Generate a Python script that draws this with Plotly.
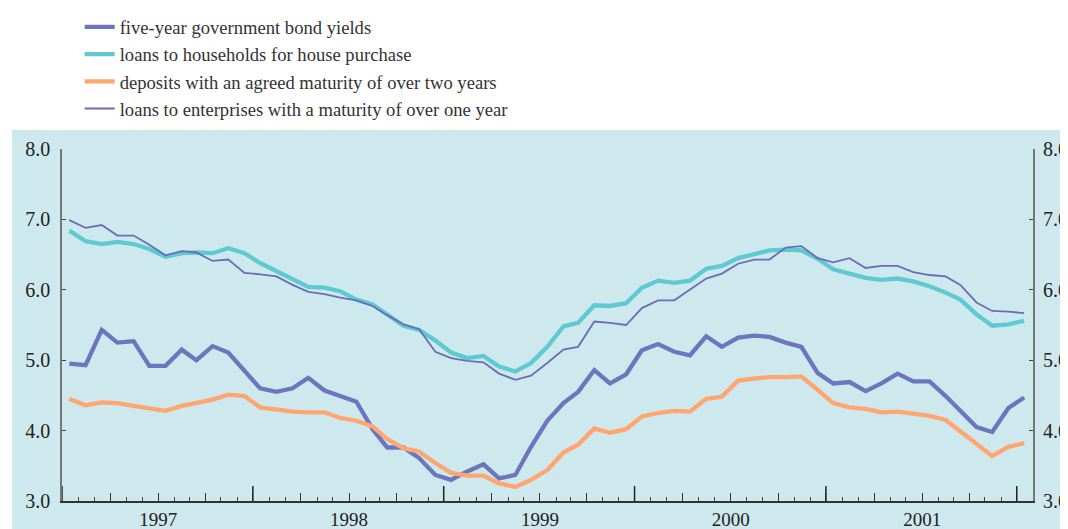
import pandas as pd
import plotly.graph_objects as go

# monthly observations, July 1996 - July 2001 (plotted mid-month)
months = pd.date_range("1996-07-01", periods=61, freq="MS") + pd.Timedelta(days=14)

bond_yields = [4.95, 4.93, 5.43, 5.25, 5.27, 4.92, 4.92, 5.15, 5.00, 5.20, 5.11, 4.86,
               4.60, 4.55, 4.60, 4.75, 4.57, 4.49, 4.41, 4.02, 3.76, 3.76, 3.61, 3.37,
               3.30, 3.42, 3.52, 3.32, 3.37, 3.77, 4.14, 4.39, 4.55, 4.86, 4.67, 4.80,
               5.14, 5.23, 5.12, 5.07, 5.34, 5.19, 5.32, 5.35, 5.33, 5.25, 5.19, 4.82,
               4.67, 4.69, 4.56, 4.67, 4.81, 4.70, 4.70, 4.49, 4.28, 4.05, 3.98, 4.32, 4.47]
households = [6.84, 6.69, 6.65, 6.68, 6.65, 6.58, 6.47, 6.52, 6.53, 6.52, 6.59, 6.52,
              6.38, 6.26, 6.15, 6.04, 6.03, 5.98, 5.86, 5.79, 5.65, 5.49, 5.43, 5.28,
              5.11, 5.03, 5.06, 4.91, 4.84, 4.96, 5.19, 5.48, 5.53, 5.78, 5.77, 5.81,
              6.03, 6.13, 6.10, 6.13, 6.30, 6.34, 6.45, 6.51, 6.56, 6.57, 6.56, 6.44,
              6.29, 6.23, 6.17, 6.14, 6.16, 6.12, 6.05, 5.96, 5.86, 5.65, 5.49, 5.51, 5.56]
deposits = [4.45, 4.36, 4.40, 4.39, 4.35, 4.32, 4.28, 4.35, 4.40, 4.44, 4.51, 4.49,
            4.33, 4.30, 4.27, 4.26, 4.26, 4.18, 4.14, 4.06, 3.88, 3.75, 3.70, 3.54,
            3.40, 3.36, 3.36, 3.25, 3.20, 3.30, 3.44, 3.69, 3.80, 4.03, 3.97, 4.02,
            4.20, 4.25, 4.28, 4.27, 4.45, 4.48, 4.71, 4.74, 4.76, 4.76, 4.77, 4.58,
            4.39, 4.33, 4.31, 4.26, 4.27, 4.24, 4.21, 4.15, 3.99, 3.83, 3.64, 3.77, 3.82]
enterprises = [6.99, 6.88, 6.92, 6.77, 6.77, 6.64, 6.49, 6.55, 6.53, 6.41, 6.43, 6.24,
               6.22, 6.19, 6.07, 5.97, 5.94, 5.89, 5.85, 5.77, 5.64, 5.51, 5.44, 5.12,
               5.03, 4.99, 4.97, 4.81, 4.72, 4.78, 4.96, 5.15, 5.19, 5.55, 5.53, 5.50,
               5.74, 5.85, 5.85, 6.00, 6.16, 6.23, 6.37, 6.43, 6.43, 6.60, 6.62, 6.45,
               6.39, 6.45, 6.31, 6.34, 6.34, 6.25, 6.21, 6.19, 6.07, 5.82, 5.70, 5.69, 5.67]

series_names = ["five-year government bond yields",
                "loans to households for house purchase",
                "deposits with an agreed maturity of over two years",
                "loans to enterprises with a maturity of over one year"]
series_colors = ["#6B76BE", "#5FC9D2", "#FFA570", "#6A6DB6"]
series_widths = [4.3, 4.3, 4.3, 1.8]

y_ticks = [3, 4, 5, 6, 7, 8]

FONT = "Liberation Serif"
BG = "#CEE9EE"

fig = go.Figure()
for name, vals, col, w, ax in zip(series_names, [bond_yields, households, deposits, enterprises],
                                  series_colors, series_widths, ["y", "y", "y", "y2"]):
    fig.add_trace(go.Scatter(x=months, y=vals, mode="lines", name=name, yaxis=ax,
                             line=dict(color=col, width=w), legendgroup=name))

# quarter ticks with year labels at January
quarters = pd.date_range("1996-10-01", "2001-07-01", freq="QS")
qtext = [str(d.year) if d.month == 1 else "" for d in quarters]

# the page body adds an 8px offset, so the figure is sized/margined to compensate
fig.update_layout(
    width=1060, height=521,
    margin=dict(l=54, r=35, t=141, b=28, autoexpand=False),
    paper_bgcolor="white", plot_bgcolor=BG,
    font=dict(family=FONT, size=20, color="#222"),
    showlegend=True,
    legend=dict(x=0.0182, y=1.3995, xanchor="left", yanchor="top",
                font=dict(family=FONT, size=18.6, color="#333"),
                bgcolor="rgba(0,0,0,0)", tracegroupgap=2, traceorder="normal"),
    xaxis=dict(type="date", range=["1996-07-01", "2001-08-01"],
               tickmode="array", tickvals=list(quarters), ticktext=qtext,
               ticks="inside", ticklen=8, tickwidth=1.3, tickcolor="#333",
               minor=dict(dtick="M1", tick0="1996-07-01", ticks="inside", ticklen=4,
                          tickwidth=1, tickcolor="#444", showgrid=False),
               showline=True, linecolor="#333", linewidth=1.5,
               showgrid=False, zeroline=False, ticklabelstandoff=0,
               tickfont=dict(family=FONT, size=19, color="#222")),
    yaxis=dict(range=[3, 8], tickvals=y_ticks, tickformat=".1f",
               ticks="inside", ticklen=4, tickcolor="#444",
               showline=True, linecolor="#777", linewidth=1.5,
               showgrid=False, zeroline=False, ticklabelstandoff=6,
               tickfont=dict(family=FONT, size=20, color="#222")),
    yaxis2=dict(range=[3, 8], tickvals=y_ticks, tickformat=".1f", overlaying="y", side="right",
                ticks="inside", ticklen=4, tickcolor="#444",
                showline=True, linecolor="#777", linewidth=1.8,
                showgrid=False, zeroline=False, ticklabelstandoff=4,
                tickfont=dict(family=FONT, size=20, color="#222")),
)

# light background panel behind the chart area
fig.add_shape(type="rect", xref="paper", yref="paper",
              x0=-0.0515, x1=1.04, y0=-0.09, y1=1.054,
              fillcolor=BG, line=dict(width=0), layer="below")

# long ticks at mid-year
for d in pd.date_range("1996-07-01", "2001-07-01", freq="12MS"):
    fig.add_shape(type="line", xref="x", yref="paper", x0=d, x1=d, y0=0, y1=15/352,
                  line=dict(color="#222", width=1.5))

fig.write_html("out.html")
